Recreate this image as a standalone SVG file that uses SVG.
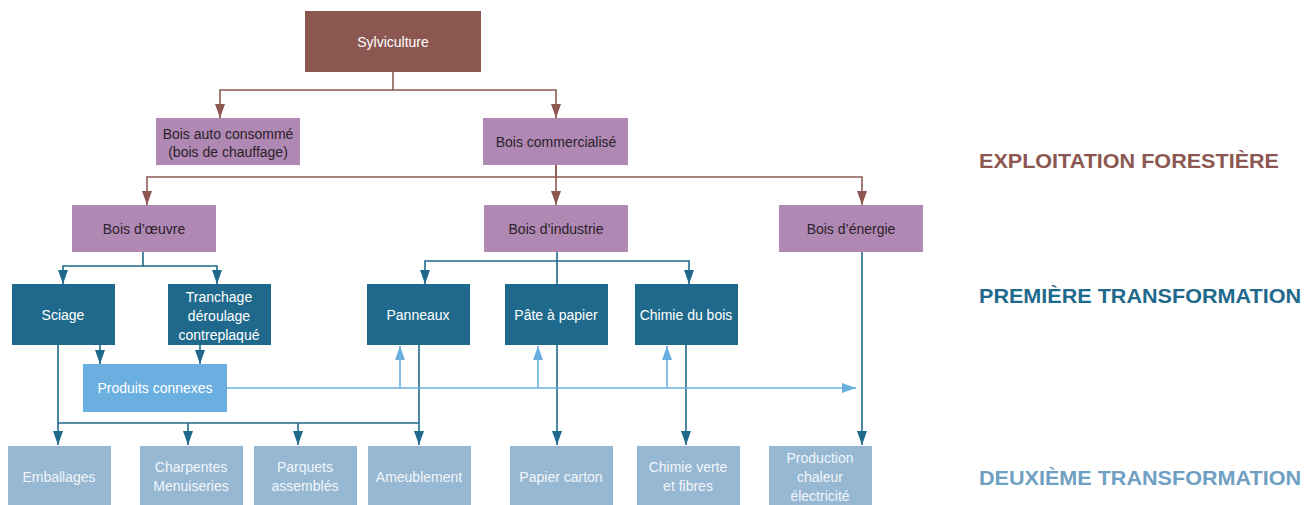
<svg xmlns="http://www.w3.org/2000/svg" width="1313" height="505" viewBox="0 0 1313 505">
<style>
text{font-family:"Liberation Sans",Arial,sans-serif;font-size:14px;text-anchor:middle}
.syl{fill:#8b5750}
.pur{fill:#b088b4}
.dk{fill:#1f6a8c}
.lb{fill:#6aafe0}
.bt{fill:#97b8d3}
.tw{fill:#ffffff}
.td{fill:#2a2228}
.tb{fill:#f2f6fa}
.lab{font-weight:bold;font-size:21px;text-anchor:start}
.cb{fill:none;stroke:#8e5a53;stroke-width:1.6}
.ct{fill:none;stroke:#1f6a8c;stroke-width:1.6}
.cl{fill:none;stroke:#6aafe0;stroke-width:1.6}
</style>
<defs>
<marker id="ab" viewBox="0 0 14 10" refX="14" refY="5" markerWidth="14" markerHeight="10" markerUnits="userSpaceOnUse" orient="auto"><path d="M0,0L14,5L0,10z" fill="#8b5750"/></marker>
<marker id="at" viewBox="0 0 14 10" refX="14" refY="5" markerWidth="14" markerHeight="10" markerUnits="userSpaceOnUse" orient="auto"><path d="M0,0L14,5L0,10z" fill="#1f6a8c"/></marker>
<marker id="al" viewBox="0 0 14 10" refX="14" refY="5" markerWidth="14" markerHeight="10" markerUnits="userSpaceOnUse" orient="auto"><path d="M0,0L14,5L0,10z" fill="#6aafe0"/></marker>
</defs>

<g id="connectors">
<path class="cb" d="M393,72V90H220V118" marker-end="url(#ab)"/>
<path class="cb" d="M393,90H556V118" marker-end="url(#ab)"/>
<path class="cb" d="M556,165V177H147V205" marker-end="url(#ab)"/>
<path class="cb" d="M556,165V205" marker-end="url(#ab)"/>
<path class="cb" d="M556,177H862V205" marker-end="url(#ab)"/>

<path class="ct" d="M143,252V266H63V284" marker-end="url(#at)"/>
<path class="ct" d="M143,266H217V284" marker-end="url(#at)"/>
<path class="ct" d="M557,252V284"/>
<path class="ct" d="M557,261H425V284" marker-end="url(#at)"/>
<path class="ct" d="M557,261H689V284" marker-end="url(#at)"/>
<path class="ct" d="M100,345V364" marker-end="url(#at)"/>
<path class="ct" d="M200,345V364" marker-end="url(#at)"/>
<path class="ct" d="M58,345V445" marker-end="url(#at)"/>
<path class="ct" d="M58,423H419"/>
<path class="ct" d="M188,423V445" marker-end="url(#at)"/>
<path class="ct" d="M298,423V445" marker-end="url(#at)"/>
<path class="ct" d="M419,345V445" marker-end="url(#at)"/>
<path class="ct" d="M557,345V445" marker-end="url(#at)"/>
<path class="ct" d="M686,345V445" marker-end="url(#at)"/>
<path class="ct" d="M862,252V445" marker-end="url(#at)"/>

<path class="cl" d="M227,388H856" marker-end="url(#al)"/>
<path class="cl" d="M400,388V346" marker-end="url(#al)"/>
<path class="cl" d="M538,388V346" marker-end="url(#al)"/>
<path class="cl" d="M667,388V346" marker-end="url(#al)"/>
</g>

<g id="sylviculture"><rect class="syl" x="305" y="11" width="176" height="61"/><text class="tw" x="393" y="47">Sylviculture</text></g>
<g id="bois-auto"><rect class="pur" x="156" y="118" width="144" height="47"/><text class="td" x="228" y="139">Bois auto consommé</text><text class="td" x="228" y="157">(bois de chauffage)</text></g>
<g id="bois-commercialise"><rect class="pur" x="483" y="118" width="145" height="47"/><text class="td" x="556" y="147">Bois commercialisé</text></g>
<g id="bois-oeuvre"><rect class="pur" x="72" y="205" width="144" height="47"/><text class="td" x="144" y="234">Bois d’œuvre</text></g>
<g id="bois-industrie"><rect class="pur" x="484" y="205" width="144" height="47"/><text class="td" x="556" y="234">Bois d’industrie</text></g>
<g id="bois-energie"><rect class="pur" x="779" y="205" width="144" height="47"/><text class="td" x="851" y="234">Bois d’énergie</text></g>

<g id="sciage"><rect class="dk" x="12" y="284" width="103" height="61"/><text class="tw" x="63" y="320">Sciage</text></g>
<g id="tranchage"><rect class="dk" x="168" y="284" width="103" height="61"/><text class="tw" x="219" y="302">Tranchage</text><text class="tw" x="219" y="321">déroulage</text><text class="tw" x="219" y="340">contreplaqué</text></g>
<g id="panneaux"><rect class="dk" x="367" y="284" width="103" height="61"/><text class="tw" x="418" y="320">Panneaux</text></g>
<g id="pate"><rect class="dk" x="505" y="284" width="103" height="61"/><text class="tw" x="556" y="320">Pâte à papier</text></g>
<g id="chimie-bois"><rect class="dk" x="635" y="284" width="103" height="61"/><text class="tw" x="686" y="320">Chimie du bois</text></g>
<g id="produits-connexes"><rect class="lb" x="83" y="364" width="144" height="48"/><text class="tw" x="155" y="393">Produits connexes</text></g>

<g id="emballages"><rect class="bt" x="8" y="446" width="103" height="60"/><text class="tb" x="59" y="482">Emballages</text></g>
<g id="charpentes"><rect class="bt" x="140" y="446" width="103" height="60"/><text class="tb" x="191" y="472">Charpentes</text><text class="tb" x="191" y="491">Menuiseries</text></g>
<g id="parquets"><rect class="bt" x="254" y="446" width="103" height="60"/><text class="tb" x="305" y="472">Parquets</text><text class="tb" x="305" y="491">assemblés</text></g>
<g id="ameublement"><rect class="bt" x="368" y="446" width="103" height="60"/><text class="tb" x="419" y="482">Ameublement</text></g>
<g id="papier-carton"><rect class="bt" x="510" y="446" width="103" height="60"/><text class="tb" x="561" y="482">Papier carton</text></g>
<g id="chimie-verte"><rect class="bt" x="637" y="446" width="103" height="60"/><text class="tb" x="688" y="472">Chimie verte</text><text class="tb" x="688" y="491">et fibres</text></g>
<g id="production"><rect class="bt" x="769" y="446" width="103" height="60"/><text class="tb" x="820" y="463">Production</text><text class="tb" x="820" y="482">chaleur</text><text class="tb" x="820" y="501">électricité</text></g>

<g id="labels">
<text class="lab" x="979" y="168" fill="#8b5750" textLength="300" lengthAdjust="spacingAndGlyphs">EXPLOITATION FORESTIÈRE</text>
<text class="lab" x="979" y="303" fill="#1f6a8c" textLength="322" lengthAdjust="spacingAndGlyphs">PREMIÈRE TRANSFORMATION</text>
<text class="lab" x="979" y="485" fill="#6f9fc2" textLength="322" lengthAdjust="spacingAndGlyphs">DEUXIÈME TRANSFORMATION</text>
</g>
</svg>
